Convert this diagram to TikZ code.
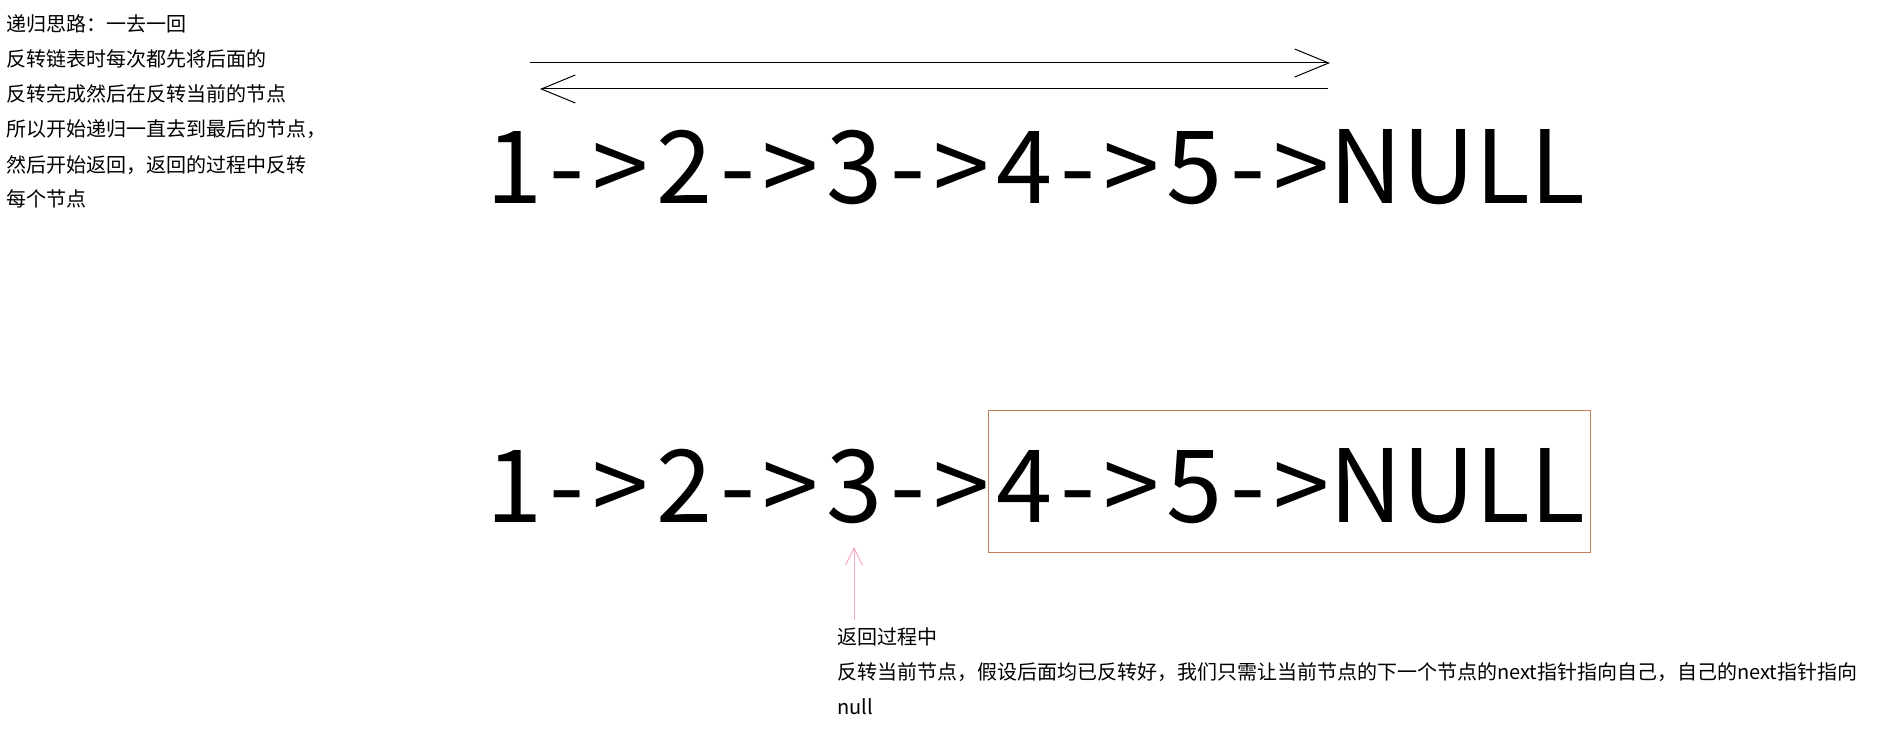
\documentclass[tikz,border=0pt]{standalone}
\usepackage{fontspec}
\setmainfont{Noto Sans CJK SC}
\usetikzlibrary{arrows.meta}
\definecolor{boxc}{HTML}{C4805C}
\definecolor{pinkc}{HTML}{F7A8C4}
\newcommand{\chainrow}{{\addfontfeature{LetterSpace=7.6}1->2->3->4->5->}NULL}
\tikzset{
  small/.style={anchor=base west, inner sep=0pt, font=\fontsize{20}{20}\selectfont},
  big/.style={anchor=base west, inner sep=0pt, font=\fontsize{101}{101}\selectfont},
  blackarrow/.style={line width=1pt, -{Straight Barb[length=34pt,width=28pt,line width=1pt]}},
  pinkarrow/.style={pinkc, line width=1pt, -{Straight Barb[length=17pt,width=17pt,line width=1pt]}},
  framebox/.style={draw=boxc, line width=1pt}
}
\begin{document}
\begin{tikzpicture}[x=1pt,y=-1pt]
\useasboundingbox (0,0) rectangle (1896,749);
\node[small] (l1) at (6,32) {递归思路：一去一回};
\node[small] (l2) at (6,67) {反转链表时每次都先将后面的};
\node[small] (l3) at (6,102) {反转完成然后在反转当前的节点};
\node[small] (l4) at (6,137) {所以开始递归一直去到最后的节点，};
\node[small] (l5) at (6,172) {然后开始返回，返回的过程中反转};
\node[small] (l6) at (6,207) {每个节点};
\coordinate (a1s) at (530,63);
\coordinate (a1e) at (1330,63);
\coordinate (a2s) at (1328,89);
\coordinate (a2e) at (540,89);
\draw[blackarrow] (a1s) -- (a1e);
\draw[blackarrow] (a2s) -- (a2e);
\node[big] (r1) at (486,203) {\chainrow};
\node[big] (r2) at (486,522) {\chainrow};
\node[framebox, minimum width=602pt, minimum height=142pt, anchor=north west, inner sep=0pt] (bx) at (988,410) {};
\coordinate (ps) at (854,620);
\coordinate (pe) at (854,547);
\draw[pinkarrow] (ps) -- (pe);
\node[small] (b1) at (837,644) {返回过程中};
\node[small] (b2) at (837,679) {反转当前节点，假设后面均已反转好，我们只需让当前节点的下一个节点的next指针指向自己，自己的next指针指向};
\node[small] (b3) at (837,714) {null};
\end{tikzpicture}
\end{document}
